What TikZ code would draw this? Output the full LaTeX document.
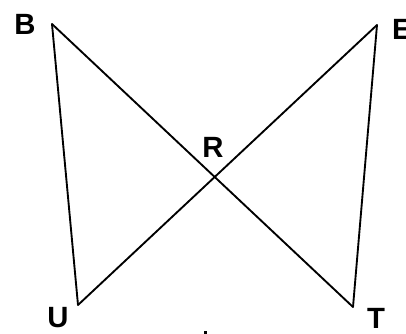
\documentclass[tikz,border=0pt]{standalone}
\usepackage{fontspec}
\setmainfont{Liberation Sans}
\usetikzlibrary{arrows,shapes}
\tikzstyle{plabel}=[inner sep=0pt,font=\fontsize{25}{25}\selectfont\bfseries]
\tikzstyle{seg}=[line width=1.6pt,line join=round,line cap=round]

\begin{document}
\begin{tikzpicture}[x=0.03cm,y=-0.03cm]
\useasboundingbox (0,0) rectangle (406,334);
\coordinate (B) at (52,24);
\coordinate (E) at (377,25);
\coordinate (U) at (78,305);
\coordinate (T) at (353,307);
\node[plabel] (lB) at (25,24) {B};
\node[plabel] (lE) at (402,29) {E};
\node[plabel] (lR) at (213,147) {R};
\node[plabel] (lU) at (58,318) {U};
\node[plabel] (lT) at (376,318) {T};
\draw[seg](B)--(U);\draw[seg](B)--(T);
\draw[seg](E)--(U);\draw[seg](E)--(T);
\fill (204,331) rectangle (207,334);
\end{tikzpicture}
\end{document}
